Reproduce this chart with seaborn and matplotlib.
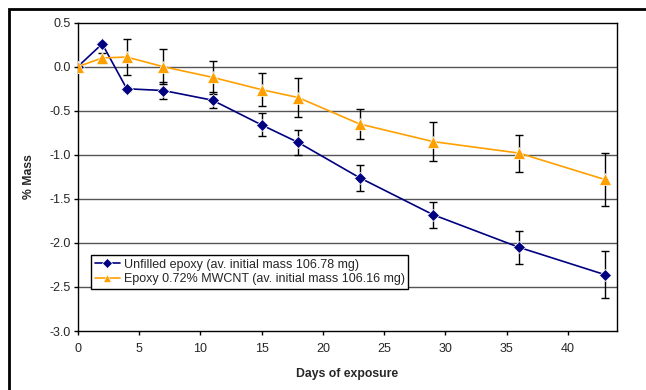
import matplotlib
matplotlib.use("Agg")
import matplotlib.pyplot as plt
import seaborn as sns
import pandas as pd
import numpy as np
from matplotlib.patches import Rectangle

days = [0, 2, 4, 7, 11, 15, 18, 23, 29, 36, 43]
unfilled = [0.0, 0.26, -0.25, -0.27, -0.38, -0.66, -0.86, -1.26, -1.68, -2.05, -2.36]
unfilled_err = [0.0, 0.02, 0.02, 0.10, 0.09, 0.13, 0.14, 0.15, 0.15, 0.19, 0.27]
mwcnt = [0.0, 0.10, 0.11, 0.0, -0.12, -0.26, -0.35, -0.65, -0.85, -0.98, -1.28]
mwcnt_err = [0.0, 0.06, 0.20, 0.20, 0.19, 0.19, 0.22, 0.17, 0.22, 0.21, 0.30]
labels = ["Unfilled epoxy (av. initial mass 106.78 mg)",
          "Epoxy 0.72% MWCNT (av. initial mass 106.16 mg)"]
yticks = [0.5, 0.0, -0.5, -1.0, -1.5, -2.0, -2.5, -3.0]
xticks = [0, 5, 10, 15, 20, 25, 30, 35, 40]

sns.set_theme(style="white")
plt.rcParams['font.family'] = ['Liberation Sans', 'DejaVu Sans']

df = pd.DataFrame({
    "days": days * 2,
    "mass": unfilled + mwcnt,
    "series": [labels[0]] * len(days) + [labels[1]] * len(days),
})

W, H = 646, 390
fig = plt.figure(figsize=(W / 100, H / 100), dpi=100)
fig.patch.set_facecolor("white")
ax = fig.add_axes([77.7 / W, 1 - 331 / H, (617 - 77.7) / W, (331 - 22.7) / H])

blue = "#000080"
orange = "#FFA000"

for yv in yticks[1:-1]:
    ax.axhline(yv, color="#555555", lw=1.0, zorder=1)

ax.errorbar(days, unfilled, yerr=unfilled_err, fmt="none", ecolor="black",
            elinewidth=1, capsize=3, capthick=1, zorder=2)
ax.errorbar(days, mwcnt, yerr=mwcnt_err, fmt="none", ecolor="black",
            elinewidth=1, capsize=3, capthick=1, zorder=2)

sns.lineplot(data=df, x="days", y="mass", hue="series", style="series",
             palette=[blue, orange], markers=["D", "^"], dashes=False,
             markersize=6.5, markeredgewidth=0.5, linewidth=1.2, ax=ax, zorder=3,
             legend=True)
for line in ax.get_lines():
    if line.get_markerfacecolor() == orange or line.get_color() == orange:
        line.set_markersize(8)

ax.set_xlim(0, 44)
ax.set_ylim(-3.0, 0.5)
ax.set_xticks(xticks)
ax.set_yticks(yticks)
ax.set_yticklabels([f"{v:.1f}" for v in yticks])
ax.tick_params(axis="both", labelsize=9, direction="out", length=3, width=1,
               color="black", left=True, bottom=True, pad=2)
ax.tick_params(axis="x", pad=6)
for s in ax.spines.values():
    s.set_color("black")
    s.set_linewidth(1.0)
ax.set_xlabel("Days of exposure", fontsize=8.8, fontweight="bold", labelpad=9)
ax.set_ylabel("% Mass", fontsize=8.8, fontweight="bold", labelpad=10)

handles, lbls = ax.get_legend_handles_labels()
leg = ax.legend(handles, lbls, loc="upper left",
                bbox_to_anchor=((91 - 77.7) / (617 - 77.7), (331 - 255) / (331 - 22.7)),
                fontsize=9, frameon=True, fancybox=False, edgecolor="black",
                framealpha=1, borderpad=0.3, labelspacing=0.2, handlelength=2.0,
                handletextpad=0.3, borderaxespad=0)
leg.get_frame().set_linewidth(1.0)
for lh in leg.legend_handles:
    lh.set_markersize(5.5)

fig.patches.append(Rectangle((8.7 / W, -0.1), 1.2, 1 - 8.7 / H + 0.1,
                             transform=fig.transFigure, fill=False,
                             edgecolor="black", linewidth=2.0, zorder=10))

fig.savefig("out.png", dpi=100)
